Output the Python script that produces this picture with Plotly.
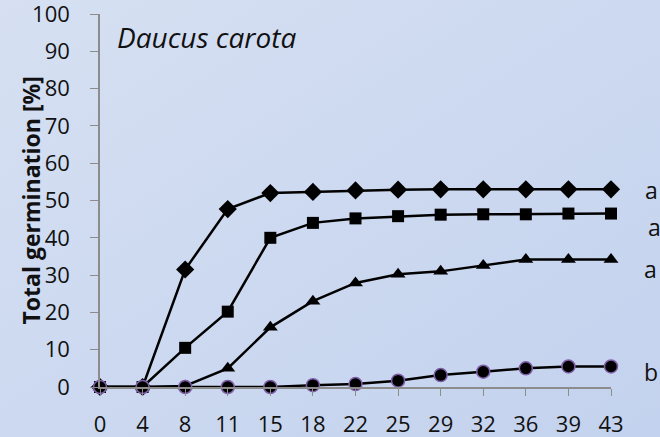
import base64
import plotly.graph_objects as go

days = ["0", "4", "8", "11", "15", "18", "22", "25", "29", "32", "36", "39", "43"]
diamond_vals = [0, 0, 31.5, 47.7, 52.0, 52.3, 52.7, 52.9, 53.0, 53.0, 53.0, 53.0, 53.0]
square_vals = [0, 0, 10.5, 20.2, 40.0, 44.0, 45.2, 45.8, 46.2, 46.3, 46.3, 46.5, 46.5]
triangle_vals = [0, 0, 0.3, 5.0, 16.0, 23.0, 27.9, 30.2, 31.0, 32.6, 34.2, 34.2, 34.2]
circle_vals = [0, 0, 0, 0, 0, 0.5, 0.8, 1.7, 3.2, 4.1, 5.0, 5.5, 5.5]
group_letters = ["a", "a", "a", "b"]
letter_y = [52.8, 42.9, 31.6, 4.0]
letter_xshift = [40, 43, 39, 40]

W, H = 660, 437
L, R, T, B = 100, 49, 14, 50
pw, ph = W - L - R, H - T - B

xi = list(range(len(days)))

fig = go.Figure()
line = dict(color="black", width=2.5)
fig.add_trace(go.Scatter(x=xi, y=diamond_vals, mode="lines+markers", line=line,
                         marker=dict(symbol="diamond", size=14, color="black"), cliponaxis=False))
fig.add_trace(go.Scatter(x=xi, y=square_vals, mode="lines+markers", line=line,
                         marker=dict(symbol="square", size=12, color="black"), cliponaxis=False))
fig.add_trace(go.Scatter(x=xi, y=triangle_vals, mode="lines+markers", line=line,
                         marker=dict(symbol="triangle-up", size=13, color="black"), cliponaxis=False))
fig.add_trace(go.Scatter(x=xi, y=circle_vals, mode="lines+markers", line=line,
                         marker=dict(symbol="circle", size=13, color="black",
                                     line=dict(color="#7f5fa8", width=1.5)), cliponaxis=False))

svg = ('<svg xmlns="http://www.w3.org/2000/svg" width="660" height="437">'
       '<defs><linearGradient id="g" x1="0" y1="0" x2="1" y2="1">'
       '<stop offset="0" stop-color="#d6e0f2"/><stop offset="1" stop-color="#c3d2ee"/>'
       '</linearGradient></defs><rect width="660" height="437" fill="url(#g)"/></svg>')
src = "data:image/svg+xml;base64," + base64.b64encode(svg.encode()).decode()

annotations = [dict(x=12, y=yv, xref="x", yref="y", text=t, showarrow=False,
                    xshift=xs, font=dict(family="Open Sans", size=23, color="#111"))
               for t, yv, xs in zip(group_letters, letter_y, letter_xshift)]
# species name
annotations.append(dict(x=15 / pw, y=(ph - (37 - T)) / ph, xref="paper", yref="paper",
                        text="<i>Daucus carota</i>", showarrow=False, xanchor="left",
                        yanchor="middle", font=dict(family="Open Sans", size=28, color="#111")))
# y axis title
annotations.append(dict(x=(30 - L) / pw, y=0.5, xref="paper", yref="paper",
                        text="<b>Total germination [%]</b>", showarrow=False, textangle=-90,
                        xanchor="center", yanchor="middle",
                        font=dict(family="Open Sans", size=23, color="#111")))

fig.update_layout(
    width=W, height=H,
    margin=dict(l=L, r=R, t=T, b=B, autoexpand=False),
    paper_bgcolor="#cdd9f0", plot_bgcolor="rgba(0,0,0,0)",
    showlegend=False,
    images=[dict(source=src, xref="paper", yref="paper", x=-L / pw, y=1 + T / ph,
                 sizex=W / pw, sizey=H / ph, sizing="stretch", layer="below",
                 xanchor="left", yanchor="top")],
    annotations=annotations,
    font=dict(family="Open Sans", color="#111"),
)
fig.update_xaxes(range=[0, 12], tickmode="array", tickvals=xi, ticktext=days,
                 showgrid=False, zeroline=False, showline=True, linecolor="#8c8c8c",
                 linewidth=1.5, ticks="outside", ticklen=7, tickcolor="#8c8c8c",
                 tickfont=dict(size=22, family="Open Sans", color="#111"),
                 ticklabelstandoff=10, automargin=False, ticklabeloverflow="allow")
fig.update_yaxes(range=[0, 100], tickvals=list(range(0, 101, 10)),
                 showgrid=False, zeroline=False, showline=True, linecolor="#8c8c8c",
                 linewidth=1.5, ticks="outside", ticklen=8, tickcolor="#8c8c8c",
                 tickfont=dict(size=22, family="Open Sans", color="#111"),
                 ticklabelstandoff=16, automargin=False, ticklabeloverflow="allow")

fig.write_html("out.html", config={"displayModeBar": False},
               post_script="document.body.style.margin='0';document.body.style.overflow='hidden';")
